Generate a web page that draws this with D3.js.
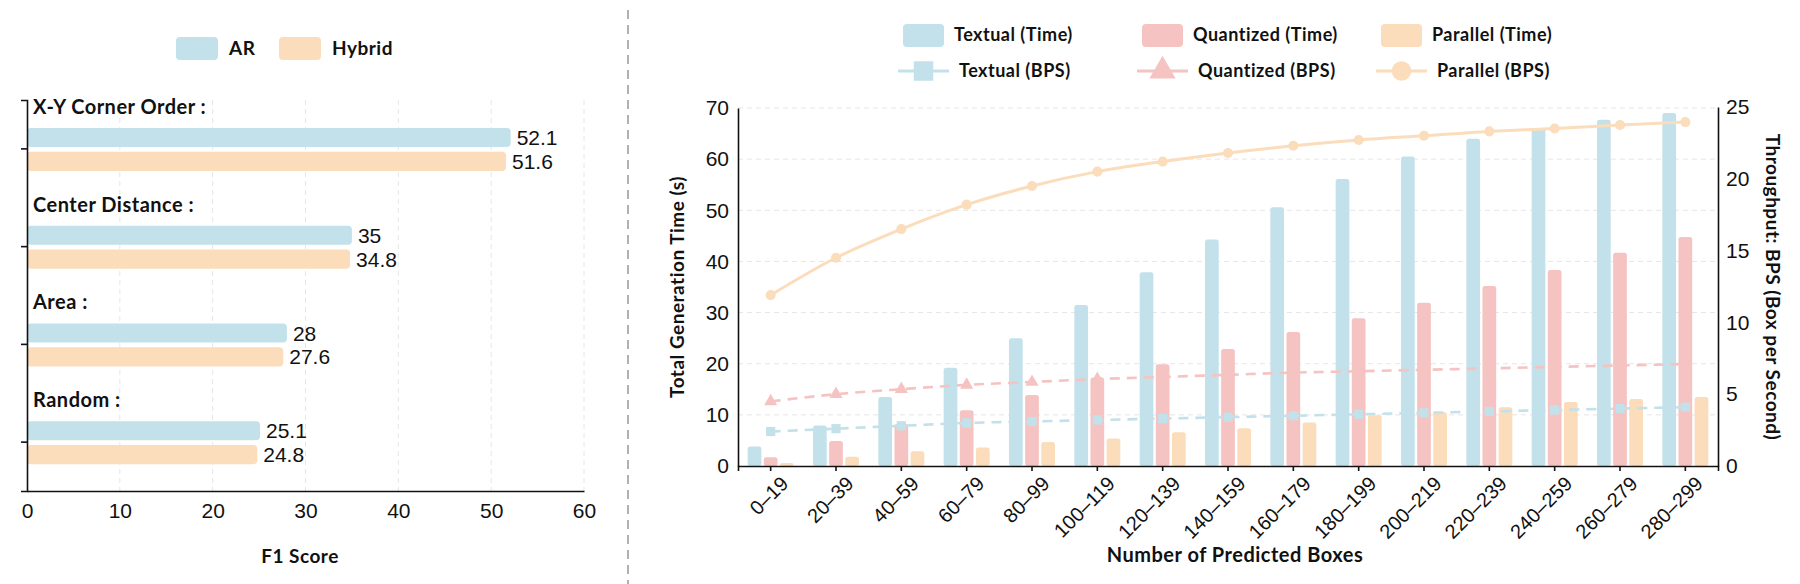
<!DOCTYPE html>
<meta charset="utf-8">
<script src="https://cdnjs.cloudflare.com/ajax/libs/d3/7.8.5/d3.min.js"></script>
<style>
body { margin: 0; background: #fff; }
.lab { font-family: Lato, "Noto Sans", sans-serif; font-weight: bold; fill: #111; letter-spacing: 0.5px; }
.num { font-family: "Liberation Sans", Arial, sans-serif; fill: #111; }
.axis path, .axis line { stroke: #111; stroke-width: 1.6; }
.axis text { font-family: "Liberation Sans", Arial, sans-serif; font-size: 21px; fill: #111; }
</style>
<body>
<script>
// ---- data: left panel (F1 score)
var orders = ["X-Y Corner Order", "Center Distance", "Area", "Random"];
var methods = ["AR", "Hybrid"];
var arF1 = [52.1, 35, 28, 25.1];
var hybridF1 = [51.6, 34.8, 27.6, 24.8];
var f1Ticks = [0, 10, 20, 30, 40, 50, 60];

// ---- data: right panel (time / throughput)
var bins = ["0–19", "20–39", "40–59", "60–79", "80–99", "100–119", "120–139", "140–159",
  "160–179", "180–199", "200–219", "220–239", "240–259", "260–279", "280–299"];
var textualTime = [3.8, 7.9, 13.5, 19.2, 25.0, 31.5, 37.9, 44.3, 50.6, 56.1, 60.5, 64.0, 66.1, 67.7, 69.0];
var quantizedTime = [1.7, 4.9, 8.2, 10.9, 13.9, 17.3, 19.9, 22.9, 26.2, 28.9, 31.9, 35.2, 38.3, 41.7, 44.8];
var parallelTime = [0.6, 1.8, 2.9, 3.6, 4.7, 5.4, 6.6, 7.4, 8.5, 9.9, 10.5, 11.5, 12.5, 13.1, 13.5];
var textualBPS = [2.4, 2.6, 2.8, 3.0, 3.1, 3.2, 3.3, 3.4, 3.5, 3.6, 3.7, 3.8, 3.9, 4.0, 4.1];
var quantizedBPS = [4.5, 5.0, 5.35, 5.65, 5.85, 6.05, 6.2, 6.35, 6.5, 6.6, 6.7, 6.8, 6.9, 7.0, 7.1];
var parallelBPS = [11.9, 14.5, 16.5, 18.2, 19.5, 20.5, 21.2, 21.8, 22.3, 22.7, 23.0, 23.3, 23.5, 23.75, 23.95];
var timeTicks = [0, 10, 20, 30, 40, 50, 60, 70];
var bpsTicks = [0, 5, 10, 15, 20, 25];

var blue = "#c3e1ea", pink = "#f5c3c1", peach = "#fbdcbb";

var w = 1800, h = 584;
var svg = d3.select("body").append("svg").attr("width", w).attr("height", h);

// separator
svg.append("line").attr("x1", 628).attr("x2", 628).attr("y1", 10).attr("y2", h)
  .attr("stroke", "#888").attr("stroke-width", 1.3).attr("stroke-dasharray", "9,6");

// =================== LEFT PANEL ===================
var xF = d3.scaleLinear().domain([0, 60]).range([27, 584]);
var yC = d3.scaleBand().domain(orders).range([100, 491]);
var yM = d3.scaleBand().domain(methods).range([-21, 22]).paddingInner(0.2);
var colM = d3.scaleOrdinal().domain(methods).range([blue, peach]);

// grid
svg.append("g").selectAll("line").data(f1Ticks.slice(1)).enter().append("line")
  .attr("x1", function(d){ return xF(d); }).attr("x2", function(d){ return xF(d); })
  .attr("y1", 100).attr("y2", 491)
  .attr("stroke", "#e6e6e6").attr("stroke-dasharray", "5,4");

var leftRows = orders.map(function(o, i){ return {order: o, vals: [arF1[i], hybridF1[i]]}; });
var rowG = svg.append("g").selectAll("g").data(leftRows).enter().append("g")
  .attr("transform", function(d){ return "translate(0," + (yC(d.order) + yC.bandwidth() / 2) + ")"; });

rowG.selectAll("rect").data(function(d){ return d.vals; }).enter().append("rect")
  .attr("x", xF(0))
  .attr("y", function(d, i){ return yM(methods[i]); })
  .attr("width", function(d){ return xF(d) - xF(0); })
  .attr("height", yM.bandwidth())
  .attr("rx", 4)
  .attr("fill", function(d, i){ return colM(methods[i]); });

rowG.selectAll("text.v").data(function(d){ return d.vals; }).enter().append("text")
  .attr("class", "v num")
  .attr("x", function(d){ return xF(d) + 6; })
  .attr("y", function(d, i){ return yM(methods[i]) + yM.bandwidth() / 2; })
  .attr("dy", "0.36em")
  .style("font-size", "21px")
  .text(function(d){ return d; });

rowG.append("text").attr("class", "lab")
  .attr("x", 33).attr("y", -42).attr("dy", "0.35em")
  .style("font-size", "20px")
  .text(function(d){ return d.order + " :"; });

svg.append("g").attr("class", "axis")
  .attr("transform", "translate(0,491)")
  .call(d3.axisBottom(xF).tickValues(f1Ticks).tickSize(0).tickPadding(12));
svg.append("g").attr("class", "axis")
  .attr("transform", "translate(27,0)")
  .call(d3.axisLeft(yC).tickSize(6).tickFormat(""));

svg.append("text").attr("class", "lab").attr("x", 300).attr("y", 556)
  .attr("text-anchor", "middle").attr("dy", "0.35em").style("font-size", "19px")
  .text("F1 Score");

// legend left
var legL = svg.append("g").selectAll("g").data(methods).enter().append("g")
  .attr("transform", function(d, i){ return "translate(" + (176 + i * 103) + ",48)"; });
legL.append("rect").attr("x", 0).attr("y", -11).attr("width", 42).attr("height", 23).attr("rx", 4)
  .attr("fill", function(d){ return colM(d); });
legL.append("text").attr("class", "lab").attr("x", 53).attr("dy", "0.35em")
  .style("font-size", "19px").text(function(d){ return d; });

// =================== RIGHT PANEL ===================
var x = d3.scaleBand().domain(bins).range([738, 1718]);
var series = ["Textual", "Quantized", "Parallel"];
var xs = d3.scaleBand().domain(series).range([-23, 23]).paddingInner(0.15);
var col = d3.scaleOrdinal().domain(series).range([blue, pink, peach]);
var yL = d3.scaleLinear().domain([0, 70]).range([466, 108]);
var yR = d3.scaleLinear().domain([0, 25]).range([466, 107]);

// grid
svg.append("g").selectAll("line").data(timeTicks.slice(1)).enter().append("line")
  .attr("x1", 738).attr("x2", 1718)
  .attr("y1", function(d){ return yL(d); }).attr("y2", function(d){ return yL(d); })
  .attr("stroke", "#e6e6e6").attr("stroke-dasharray", "5,4");

var timeRows = bins.map(function(b, i){
  return {bin: b, vals: [textualTime[i], quantizedTime[i], parallelTime[i]]};
});
var grp = svg.append("g").selectAll("g").data(timeRows).enter().append("g")
  .attr("transform", function(d){ return "translate(" + (x(d.bin) + x.bandwidth() / 2) + ",0)"; });
grp.selectAll("rect").data(function(d){ return d.vals; }).enter().append("rect")
  .attr("x", function(d, i){ return xs(series[i]); })
  .attr("y", function(d){ return yL(d); })
  .attr("width", xs.bandwidth())
  .attr("height", function(d){ return yL(0) - yL(d); })
  .attr("rx", 2.5)
  .attr("fill", function(d, i){ return col(series[i]); });

// lines
var cx = function(d, i){ return x(bins[i]) + x.bandwidth() / 2; };
function bpsLine(vals, color, dashed, curve, marker) {
  var line = d3.line().x(cx).y(function(d){ return yR(d); }).curve(curve);
  svg.append("path").datum(vals).attr("d", line)
    .attr("fill", "none").attr("stroke", color).attr("stroke-width", dashed ? 2.6 : 3)
    .attr("stroke-dasharray", dashed ? "10,7" : null);
  svg.append("g").selectAll("path").data(vals).enter().append("path")
    .attr("transform", function(d, i){ return "translate(" + cx(d, i) + "," + yR(d) + ")"; })
    .attr("d", d3.symbol().type(marker.type).size(marker.size))
    .attr("fill", color);
}
bpsLine(textualBPS, blue, true, d3.curveMonotoneX, {type: d3.symbolSquare, size: 85});
bpsLine(quantizedBPS, pink, true, d3.curveMonotoneX, {type: d3.symbolTriangle, size: 75});
bpsLine(parallelBPS, peach, false, d3.curveMonotoneX, {type: d3.symbolCircle, size: 80});

// axes
svg.append("g").attr("class", "axis")
  .attr("transform", "translate(0,466)")
  .call(d3.axisBottom(x).tickSize(5).tickPadding(4))
  .selectAll("text")
  .style("font-size", "20px")
  .attr("text-anchor", "end")
  .attr("transform", "translate(4,4) rotate(-45)")
  .attr("dx", "0").attr("dy", "0.6em");
svg.append("g").attr("class", "axis")
  .attr("transform", "translate(738,0)")
  .call(d3.axisLeft(yL).tickValues(timeTicks).tickSize(0).tickPadding(9));
svg.append("g").attr("class", "axis")
  .attr("transform", "translate(1718,0)")
  .call(d3.axisRight(yR).tickValues(bpsTicks).tickSize(0).tickPadding(8));

svg.append("text").attr("class", "lab")
  .attr("transform", "translate(677,287) rotate(-90)")
  .attr("text-anchor", "middle").attr("dy", "0.35em").style("font-size", "19px")
  .text("Total Generation Time (s)");
svg.append("text").attr("class", "lab")
  .attr("transform", "translate(1773,287) rotate(90)")
  .attr("text-anchor", "middle").attr("dy", "0.35em").style("font-size", "19px")
  .text("Throughput: BPS (Box per Second)");
svg.append("text").attr("class", "lab")
  .attr("x", 1235).attr("y", 555)
  .attr("text-anchor", "middle").attr("dy", "0.35em").style("font-size", "20px")
  .text("Number of Predicted Boxes");

// legend right
var legR = svg.append("g").selectAll("g").data(series).enter().append("g")
  .attr("transform", function(d, i){ return "translate(" + (898 + i * 239) + ",0)"; });
legR.append("rect").attr("x", 5).attr("y", 24).attr("width", 41).attr("height", 23).attr("rx", 4)
  .attr("fill", function(d){ return col(d); });
legR.append("text").attr("class", "lab").attr("x", 56).attr("y", 35).attr("dy", "0.35em")
  .style("font-size", "18px").text(function(d){ return d + " (Time)"; });
legR.append("line").attr("x1", 0).attr("x2", 51).attr("y1", 71).attr("y2", 71)
  .attr("stroke", function(d){ return col(d); }).attr("stroke-width", 3);
var legSyms = [d3.symbolSquare, d3.symbolTriangle, d3.symbolCircle];
legR.append("path")
  .attr("transform", "translate(25.5,71)")
  .attr("d", function(d, i){ return d3.symbol().type(legSyms[i]).size(i == 0 ? 380 : 300)(); })
  .attr("fill", function(d){ return col(d); });
legR.append("text").attr("class", "lab").attr("x", 61).attr("y", 71).attr("dy", "0.35em")
  .style("font-size", "18px").text(function(d){ return d + " (BPS)"; });
</script>
</body>
</html>
